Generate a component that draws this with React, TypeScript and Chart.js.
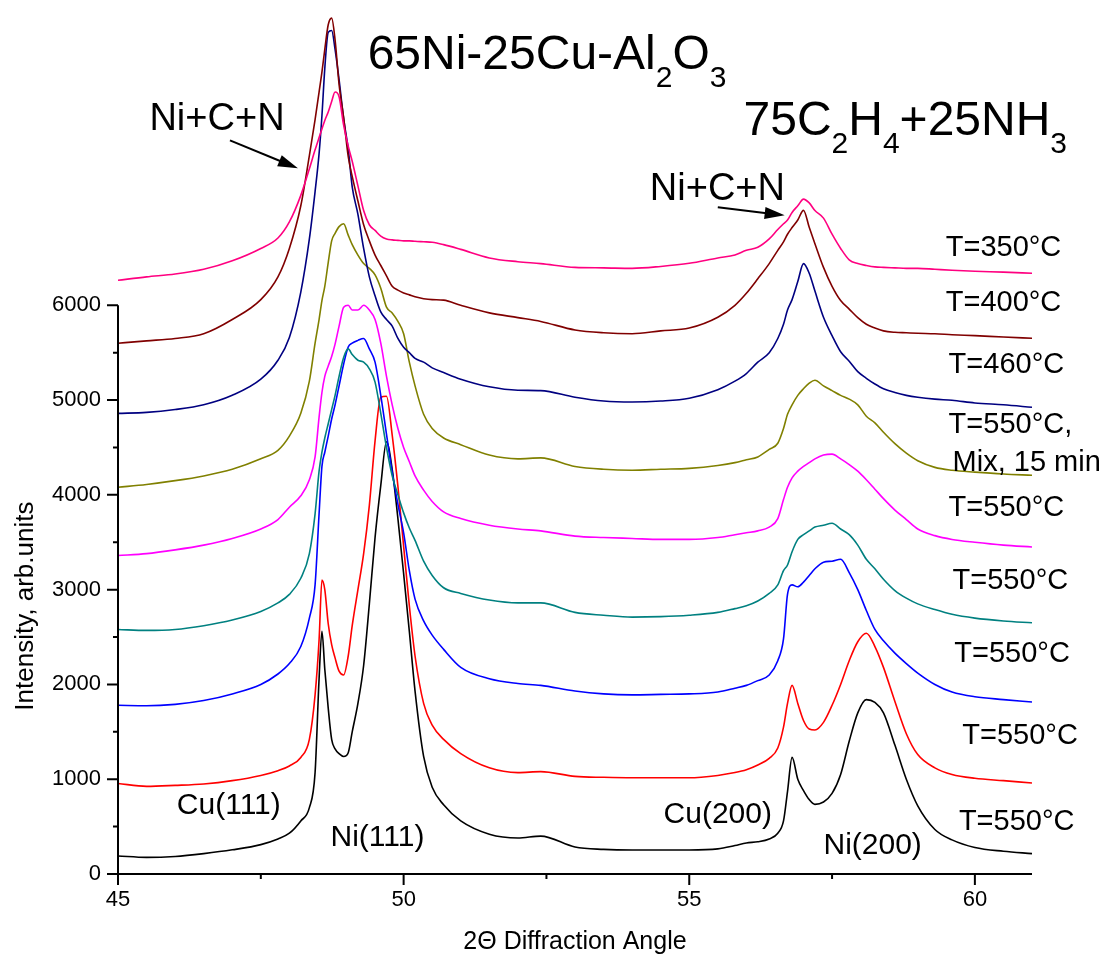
import React, { useEffect, useRef } from 'react';
import { Chart, registerables } from 'chart.js';
Chart.register(...registerables);

// 2Θ positions shared by all patterns
const X = [45, 45.5, 46, 46.5, 47, 47.5, 47.8, 48.0, 48.2, 48.35, 48.45, 48.52, 48.57, 48.62, 48.68, 48.74, 48.8, 48.87, 48.95, 49.03,
  49.1, 49.2, 49.3, 49.4, 49.5, 49.6, 49.7, 49.8, 49.9, 50.0, 50.1, 50.2, 50.35, 50.5, 50.7, 51.0, 51.5, 52.0, 52.4, 53.0,
  53.5, 54.0, 54.5, 55.0, 55.5, 55.8, 56.0, 56.2, 56.4, 56.55, 56.65, 56.72, 56.8, 56.9, 57.0, 57.1, 57.2, 57.35, 57.5, 57.65,
  57.8, 57.95, 58.1, 58.25, 58.4, 58.6, 58.8, 59.0, 59.3, 59.6, 60.0, 60.5, 61.0];

const T350 = [6264, 6300, 6330, 6380, 6470, 6600, 6710, 6880, 7160, 7440, 7640, 7770, 7860, 7950, 8040, 8150, 8250, 8200, 7900, 7680,
  7520, 7260, 7000, 6850, 6790, 6730, 6700, 6690, 6685, 6680, 6680, 6675, 6670, 6665, 6640, 6590, 6500, 6460, 6440, 6400,
  6395, 6390, 6410, 6443, 6500, 6530, 6580, 6612, 6700, 6800, 6860, 6900, 6980, 7050, 7120, 7080, 7000, 6920, 6750, 6600,
  6480, 6440, 6420, 6405, 6400, 6395, 6390, 6390, 6380, 6370, 6360, 6350, 6338];

const T400 = [5600, 5625, 5650, 5700, 5850, 6060, 6300, 6600, 7050, 7580, 7960, 8250, 8460, 8700, 8960, 9030, 8800, 8330, 7980, 7570,
  7360, 7100, 6850, 6680, 6530, 6420, 6310, 6200, 6160, 6130, 6110, 6090, 6070, 6060, 6055, 6000, 5920, 5870, 5830, 5740,
  5710, 5700, 5730, 5760, 5874, 6000, 6127, 6280, 6440, 6580, 6670, 6750, 6820, 6900, 7002, 6823, 6650, 6400, 6200, 6050,
  5960, 5870, 5800, 5760, 5730, 5715, 5710, 5705, 5700, 5690, 5680, 5665, 5652];

const T460 = [4860, 4870, 4900, 4950, 5050, 5220, 5420, 5660, 6140, 6700, 7200, 7600, 8000, 8500, 8880, 8900, 8700, 8380, 7970, 7650,
  7250, 6960, 6600, 6300, 6100, 5930, 5850, 5780, 5650, 5557, 5500, 5440, 5400, 5340, 5290, 5220, 5140, 5104, 5100, 5030,
  4990, 4980, 4990, 5020, 5110, 5200, 5280, 5400, 5500, 5650, 5800, 5950, 6060, 6250, 6440, 6338, 6150, 5874, 5680, 5510,
  5410, 5300, 5230, 5170, 5120, 5080, 5050, 5030, 5010, 4998, 4970, 4950, 4924];

const T550_MIX = [4080, 4110, 4150, 4200, 4270, 4380, 4470, 4620, 4860, 5200, 5600, 5850, 6050, 6200, 6450, 6680, 6760, 6830, 6860, 6740,
  6640, 6530, 6440, 6390, 6320, 6180, 5980, 5920, 5830, 5700, 5400, 5150, 4850, 4700, 4600, 4530, 4420, 4380, 4390, 4300,
  4270, 4260, 4270, 4280, 4310, 4340, 4370, 4400, 4480, 4545, 4700, 4850, 4950, 5050, 5120, 5178, 5209, 5150, 5100, 5050,
  5010, 4950, 4830, 4760, 4660, 4540, 4440, 4360, 4290, 4260, 4240, 4220, 4207];

const T550_A = [3360, 3380, 3420, 3470, 3540, 3640, 3740, 3870, 3990, 4160, 4400, 4820, 5080, 5250, 5360, 5460, 5590, 5780, 5980, 6000,
  5950, 5950, 6000, 5950, 5850, 5600, 5250, 4950, 4700, 4500, 4350, 4200, 4050, 3930, 3820, 3750, 3680, 3640, 3620, 3565,
  3550, 3540, 3530, 3530, 3550, 3580, 3600, 3620, 3660, 3750, 3950, 4080, 4180, 4250, 4300, 4340, 4380, 4420, 4430, 4380,
  4320, 4250, 4160, 4060, 3960, 3840, 3740, 3640, 3570, 3530, 3500, 3470, 3450];

const T550_B = [2580, 2570, 2580, 2620, 2680, 2770, 2860, 2950, 3120, 3380, 3800, 4250, 4450, 4600, 4750, 4900, 5050, 5250, 5450, 5540,
  5480, 5420, 5400, 5330, 5190, 4860, 4500, 4200, 4000, 3810, 3650, 3520, 3300, 3150, 3020, 2960, 2890, 2860, 2860, 2760,
  2730, 2710, 2715, 2730, 2760, 2800, 2830, 2880, 2960, 3050, 3200, 3260, 3400, 3530, 3580, 3620, 3660, 3680, 3700, 3640,
  3580, 3470, 3320, 3220, 3110, 2990, 2910, 2850, 2790, 2740, 2700, 2670, 2650];

const T550_C = [1780, 1775, 1790, 1830, 1900, 2000, 2110, 2220, 2400, 2700, 3050, 3800, 4300, 4450, 4620, 4800, 4950, 5150, 5380, 5560,
  5600, 5630, 5650, 5540, 5400, 5050, 4640, 4240, 3900, 3600, 3200, 2900, 2670, 2520, 2370, 2180, 2060, 2010, 1990, 1930,
  1900, 1890, 1895, 1900, 1920, 1960, 1990, 2040, 2100, 2250, 2480, 2950, 3050, 3030, 3080, 3150, 3220, 3290, 3300, 3320,
  3180, 3000, 2780, 2580, 2460, 2330, 2220, 2120, 2000, 1920, 1870, 1840, 1814];

const T550_D = [955, 925, 935, 950, 985, 1040, 1090, 1140, 1230, 1420, 1890, 2470, 3100, 3000, 2640, 2420, 2280, 2140, 2100, 2300,
  2620, 3000, 3380, 3890, 4570, 5030, 5040, 4630, 4090, 3460, 2830, 2300, 1800, 1570, 1420, 1270, 1120, 1070, 1080, 1030,
  1020, 1015, 1015, 1015, 1040, 1070, 1100, 1150, 1220, 1330, 1550, 1800, 1990, 1800, 1620, 1530, 1520, 1600, 1780, 2000,
  2250, 2450, 2540, 2400, 2180, 1820, 1480, 1260, 1120, 1050, 1010, 985, 960];

const T550_E = [190, 175, 185, 215, 255, 310, 370, 430, 560, 700, 1070, 2060, 2560, 2160, 1750, 1420, 1320, 1270, 1240, 1280,
  1500, 1800, 2200, 2850, 3550, 4100, 4560, 4270, 3750, 3170, 2560, 1930, 1240, 915, 730, 560, 420, 380, 400, 285,
  260, 253, 253, 253, 265, 300, 327, 340, 370, 430, 560, 870, 1230, 1000, 880, 785, 735, 760, 850, 1050,
  1400, 1700, 1840, 1810, 1700, 1360, 1000, 720, 470, 360, 280, 240, 215];

const SERIES = [T350, T400, T460, T550_MIX, T550_A, T550_B, T550_C, T550_D, T550_E];
const SERIES_NAMES = ['T=350°C', 'T=400°C', 'T=460°C', 'T=550°C, Mix, 15 min', 'T=550°C', 'T=550°C', 'T=550°C', 'T=550°C', 'T=550°C'];
const COLORS = ['#FF0080', '#800000', '#000080', '#808000', '#FF00FF', '#008080', '#0000FF', '#FF0000', '#000000'];

const X_TICKS = [45, 47.5, 50, 52.5, 55, 57.5, 60];
const Y_TICKS = [0, 500, 1000, 1500, 2000, 2500, 3000, 3500, 4000, 4500, 5000, 5500, 6000];

const X_TITLE = '2Θ Diffraction Angle';
const Y_TITLE = 'Intensity, arb.units';

const FONT = '"Liberation Sans", Arial, sans-serif';

// Annotations (data coordinates, left-aligned, alphabetic baseline)
type Seg = { t: string; sub?: boolean };
const RICH_LABELS: { x: number; y: number; size: number; segs: Seg[] }[] = [
  { x: 49.37, y: 8489, size: 48, segs: [{ t: '65Ni-25Cu-Al' }, { t: '2', sub: true }, { t: 'O' }, { t: '3', sub: true }] },
  { x: 55.95, y: 7793, size: 48, segs: [{ t: '75C' }, { t: '2', sub: true }, { t: 'H' }, { t: '4', sub: true }, { t: '+25NH' }, { t: '3', sub: true }] },
];
const TEXT_LABELS: { x: number; y: number; size: number; t: string }[] = [
  { x: 45.55, y: 7845, size: 38, t: 'Ni+C+N' },
  { x: 54.31, y: 7107, size: 38, t: 'Ni+C+N' },
  { x: 59.49, y: 6523, size: 29, t: 'T=350°C' },
  { x: 59.49, y: 5943, size: 29, t: 'T=400°C' },
  { x: 59.54, y: 5289, size: 29, t: 'T=460°C' },
  { x: 59.54, y: 4657, size: 29, t: 'T=550°C,' },
  { x: 59.61, y: 4256, size: 29, t: 'Mix, 15 min' },
  { x: 59.54, y: 3781, size: 29, t: 'T=550°C' },
  { x: 59.61, y: 3012, size: 29, t: 'T=550°C' },
  { x: 59.64, y: 2232, size: 29, t: 'T=550°C' },
  { x: 59.78, y: 1367, size: 29, t: 'T=550°C' },
  { x: 59.72, y: 460, size: 29, t: 'T=550°C' },
  { x: 46.03, y: 635, size: 30, t: 'Cu(111)' },
  { x: 48.72, y: 297, size: 30, t: 'Ni(111)' },
  { x: 54.55, y: 540, size: 30, t: 'Cu(200)' },
  { x: 57.35, y: 213, size: 30, t: 'Ni(200)' },
];
const ARROWS = [
  { x1: 46.96, y1: 7740, x2: 48.15, y2: 7445 },
  { x1: 55.5, y1: 7034, x2: 56.67, y2: 6949 },
];
const Y_TITLE_CENTER = 2826;

const decorPlugin = {
  id: 'decor',
  afterDraw(chart: any) {
    const { ctx } = chart;
    const xs = chart.scales.x;
    const ys = chart.scales.y;
    const px = (v: number) => xs.getPixelForValue(v);
    const py = (v: number) => ys.getPixelForValue(v);
    ctx.save();
    ctx.strokeStyle = '#000';
    ctx.fillStyle = '#000';
    ctx.lineWidth = 2;
    // axes
    const y0 = py(0);
    const yTop = py(6000);
    const xL = px(45);
    const xR = px(61);
    ctx.beginPath();
    ctx.moveTo(xL, yTop);
    ctx.lineTo(xL, y0 + 1);
    ctx.moveTo(xL - 1, y0);
    ctx.lineTo(xR, y0);
    xs.ticks.forEach((t: any) => {
      const p = px(t.value);
      const len = t.value % 5 === 0 ? 11 : 5;
      ctx.moveTo(p, y0);
      ctx.lineTo(p, y0 + len);
    });
    ys.ticks.forEach((t: any) => {
      const p = py(t.value);
      const len = t.value % 1000 === 0 ? 11 : 5;
      ctx.moveTo(xL, p);
      ctx.lineTo(xL - len, p);
    });
    ctx.stroke();

    // y title
    ctx.save();
    ctx.translate(26, py(Y_TITLE_CENTER));
    ctx.rotate(-Math.PI / 2);
    ctx.font = `26px ${FONT}`;
    ctx.textAlign = 'center';
    ctx.textBaseline = 'middle';
    ctx.fillText(Y_TITLE, 0, 0);
    ctx.restore();

    // text labels
    ctx.textAlign = 'left';
    ctx.textBaseline = 'alphabetic';
    TEXT_LABELS.forEach((l) => {
      ctx.font = `${l.size}px ${FONT}`;
      ctx.fillText(l.t, px(l.x), py(l.y));
    });
    RICH_LABELS.forEach((l) => {
      let cx = px(l.x);
      const by = py(l.y);
      l.segs.forEach((s) => {
        const fs = s.sub ? Math.round(l.size * 0.62) : l.size;
        ctx.font = `${fs}px ${FONT}`;
        ctx.fillText(s.t, cx, s.sub ? by + l.size * 0.375 : by);
        cx += ctx.measureText(s.t).width;
      });
    });
    // arrows
    ARROWS.forEach((a) => {
      const x1 = px(a.x1), y1 = py(a.y1), x2 = px(a.x2), y2 = py(a.y2);
      const ang = Math.atan2(y2 - y1, x2 - x1);
      const hl = 20, hw = 6;
      ctx.lineWidth = 2;
      ctx.beginPath();
      ctx.moveTo(x1, y1);
      ctx.lineTo(x2 - hl * 0.8 * Math.cos(ang), y2 - hl * 0.8 * Math.sin(ang));
      ctx.stroke();
      ctx.beginPath();
      ctx.moveTo(x2, y2);
      ctx.lineTo(x2 - hl * Math.cos(ang) + hw * Math.sin(ang), y2 - hl * Math.sin(ang) - hw * Math.cos(ang));
      ctx.lineTo(x2 - hl * Math.cos(ang) - hw * Math.sin(ang), y2 - hl * Math.sin(ang) + hw * Math.cos(ang));
      ctx.closePath();
      ctx.fill();
    });
    ctx.restore();
  },
};

export default function App() {
  const ref = useRef<HTMLCanvasElement>(null);
  useEffect(() => {
    if (!ref.current) return;
    const datasets = SERIES.map((arr, i) => ({
      label: SERIES_NAMES[i],
      data: X.map((x, j) => ({ x, y: arr[j] })),
      borderColor: COLORS[i],
      backgroundColor: COLORS[i],
      borderWidth: 1.6,
      pointRadius: 0,
      fill: false,
      cubicInterpolationMode: 'monotone',
    }));
    const chart = new Chart(ref.current, {
      type: 'line',
      data: { datasets },
      options: {
        responsive: false,
        maintainAspectRatio: false,
        animation: false,
        layout: { padding: { left: 0, right: 80, top: 2, bottom: 0 } },
        plugins: { legend: { display: false }, tooltip: { enabled: false }, title: { display: false } },
        scales: {
          x: {
            type: 'linear',
            min: 45,
            max: 61,
            afterBuildTicks: (s: any) => { s.ticks = X_TICKS.map((v) => ({ value: v })); },
            afterFit: (s: any) => { s.height = 86; s.paddingLeft = 0; s.paddingRight = 0; },
            grid: { display: false, drawTicks: false },
            border: { display: false },
            ticks: {
              autoSkip: false,
              maxRotation: 0,
              padding: 13,
              color: '#000',
              font: { family: FONT, size: 22 },
              callback: (v: any) => (Number(v) % 5 === 0 ? String(v) : ''),
            },
            title: { display: true, text: X_TITLE, color: '#000', font: { family: FONT, size: 25 }, padding: { top: 0, bottom: 3 } },
          },
          y: {
            type: 'linear',
            min: 0,
            max: 9200,
            afterBuildTicks: (s: any) => { s.ticks = Y_TICKS.map((v) => ({ value: v })); },
            afterFit: (s: any) => { s.width = 118; s.paddingTop = 0; s.paddingBottom = 0; },
            grid: { display: false, drawTicks: false },
            border: { display: false },
            ticks: {
              autoSkip: false,
              padding: 17,
              color: '#000',
              font: { family: FONT, size: 22 },
              callback: (v: any) => (Number(v) % 1000 === 0 ? String(v) : ''),
            },
          },
        },
      },
      plugins: [decorPlugin],
    } as any);
    return () => chart.destroy();
  }, []);
  return (
    <div style={{ position: 'absolute', left: 0, top: 0, width: 1112, height: 960, background: '#fff' }}>
      <canvas ref={ref} width={1112} height={960} style={{ display: 'block', width: 1112, height: 960 }} />
    </div>
  );
}
